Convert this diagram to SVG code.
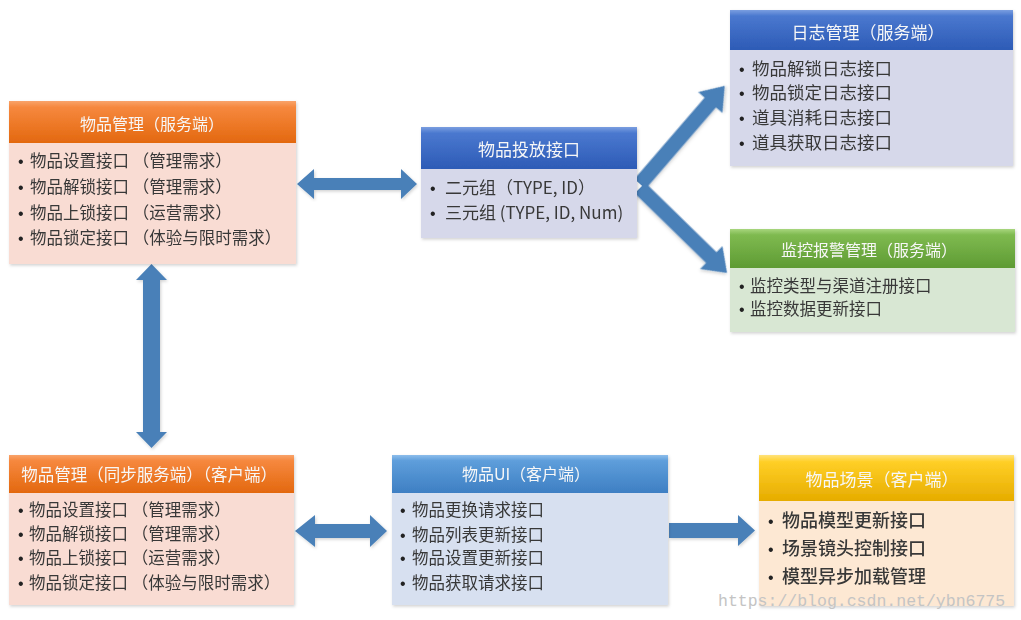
<svg xmlns="http://www.w3.org/2000/svg" width="1021" height="620" viewBox="0 0 1021 620">
<defs>
<linearGradient id="gOrange" x1="0" y1="0" x2="0" y2="1"><stop offset="0" stop-color="#F9A36A"/><stop offset="0.15" stop-color="#F6883E"/><stop offset="1" stop-color="#E3680F"/></linearGradient>
<linearGradient id="gBlue" x1="0" y1="0" x2="0" y2="1"><stop offset="0" stop-color="#7A9EE0"/><stop offset="0.15" stop-color="#4A78CF"/><stop offset="1" stop-color="#2D5BB6"/></linearGradient>
<linearGradient id="gLBlue" x1="0" y1="0" x2="0" y2="1"><stop offset="0" stop-color="#8DBDEB"/><stop offset="0.15" stop-color="#5E9EDB"/><stop offset="1" stop-color="#3E7FC3"/></linearGradient>
<linearGradient id="gGreen" x1="0" y1="0" x2="0" y2="1"><stop offset="0" stop-color="#A8D67E"/><stop offset="0.15" stop-color="#7FBA50"/><stop offset="1" stop-color="#5E9B33"/></linearGradient>
<linearGradient id="gYellow" x1="0" y1="0" x2="0" y2="1"><stop offset="0" stop-color="#FFE27A"/><stop offset="0.15" stop-color="#FFCF26"/><stop offset="1" stop-color="#E6AC00"/></linearGradient>
<filter id="sh" x="-5%" y="-5%" width="110%" height="115%"><feDropShadow dx="1" dy="1.5" stdDeviation="1.5" flood-color="#000" flood-opacity="0.18"/></filter>
</defs>
<style>
.hd{font-family:"Noto Sans CJK SC","Noto Sans",sans-serif;font-size:16px;fill:#F7F7F7;text-anchor:middle;dominant-baseline:central}
.bd{font-family:"Noto Sans CJK SC","Noto Sans",sans-serif;font-size:16.5px;fill:#383838}
.big{font-size:17px}
.b17{font-size:17.5px}
.xl{font-size:18px;font-weight:500}
.b{font-family:"Liberation Sans",Arial,sans-serif;font-size:16px;fill:#222222}
.arr{fill:#4A80B8;filter:url(#sh)}
.wm{font-family:"Liberation Mono","DejaVu Sans Mono",monospace;font-size:16.5px;fill:#C4C4C4}
</style>
<rect width="1021" height="620" fill="#FFFFFF"/>

<g id="connectors">
<polygon class="arr" points="297,184 314,169 314,178 401,178 401,169 417,184 401,199 401,190 314,190 314,199"/>
<polygon class="arr" points="151.5,264 167,280 160,280 160,432 167,432 151.5,448 136,432 143,432 143,280 136,280"/>
<polygon class="arr" points="295,531 315,515 315,524 370,524 370,515 387,531 370,547 370,538 315,538 315,547"/>
<polygon class="arr" points="669,523 738,523 738,515 755,530.5 738,546 738,538 669,538"/>
<polygon class="arr" transform="translate(640,184) rotate(-49.2)" points="0,-7.5 107.6,-7.5 107.6,-16 129.6,0 107.6,16 107.6,7.5 0,7.5"/>
<polygon class="arr" transform="translate(640,188) rotate(44.3)" points="0,-7.5 99.6,-7.5 99.6,-16 121.6,0 99.6,16 99.6,7.5 0,7.5"/>
</g>

<g id="node-item-server" filter="url(#sh)">
<rect x="9" y="143" width="287" height="121" fill="#F9DCD3"/>
<rect x="9" y="101" width="287" height="42" fill="url(#gOrange)"/>
<text class="hd" x="152" y="123">物品管理（服务端）</text>
<text class="b" x="18" y="167">•</text><text class="bd" x="30" y="167">物品设置接口 （管理需求）</text>
<text class="b" x="18" y="193">•</text><text class="bd" x="30" y="193">物品解锁接口 （管理需求）</text>
<text class="b" x="18" y="219">•</text><text class="bd" x="30" y="219">物品上锁接口 （运营需求）</text>
<text class="b" x="18" y="244">•</text><text class="bd" x="30" y="244">物品锁定接口 （体验与限时需求）</text>
</g>

<g id="node-dispatch" filter="url(#sh)">
<rect x="421" y="169" width="216" height="69" fill="#D6D8EA"/>
<rect x="421" y="127" width="216" height="42" fill="url(#gBlue)"/>
<text class="hd big" x="529" y="148">物品投放接口</text>
<text class="b" x="430" y="194">•</text><text class="bd big" x="445" y="194">二元组（TYPE, ID）</text>
<text class="b" x="430" y="219">•</text><text class="bd big" x="445" y="219">三元组 (TYPE, ID, Num)</text>
</g>

<g id="node-log" filter="url(#sh)">
<rect x="730" y="50" width="283" height="116" fill="#D6D8EA"/>
<rect x="730" y="10" width="283" height="40" fill="url(#gBlue)"/>
<text class="hd big" x="868" y="31">日志管理（服务端）</text>
<text class="b" x="739" y="75">•</text><text class="bd b17" x="752" y="75">物品解锁日志接口</text>
<text class="b" x="739" y="99">•</text><text class="bd b17" x="752" y="99">物品锁定日志接口</text>
<text class="b" x="739" y="124">•</text><text class="bd b17" x="752" y="124">道具消耗日志接口</text>
<text class="b" x="739" y="149">•</text><text class="bd b17" x="752" y="149">道具获取日志接口</text>
</g>

<g id="node-monitor" filter="url(#sh)">
<rect x="730" y="268" width="285" height="64" fill="#D8E7D3"/>
<rect x="730" y="229" width="285" height="39" fill="url(#gGreen)"/>
<text class="hd" x="869" y="249">监控报警管理（服务端）</text>
<text class="b" x="739" y="292">•</text><text class="bd" x="750" y="292">监控类型与渠道注册接口</text>
<text class="b" x="739" y="315">•</text><text class="bd" x="750" y="315">监控数据更新接口</text>
</g>

<g id="node-item-client" filter="url(#sh)">
<rect x="9" y="493" width="285" height="112" fill="#F9DCD3"/>
<rect x="9" y="455" width="285" height="38" fill="url(#gOrange)"/>
<text class="hd" x="149" y="474" style="font-size:16.5px">物品管理（同步服务端）（客户端）</text>
<text class="b" x="18" y="516">•</text><text class="bd" x="29" y="516">物品设置接口 （管理需求）</text>
<text class="b" x="18" y="540">•</text><text class="bd" x="29" y="540">物品解锁接口 （管理需求）</text>
<text class="b" x="18" y="564">•</text><text class="bd" x="29" y="564">物品上锁接口 （运营需求）</text>
<text class="b" x="18" y="589">•</text><text class="bd" x="29" y="589">物品锁定接口 （体验与限时需求）</text>
</g>

<g id="node-item-ui" filter="url(#sh)">
<rect x="392" y="493" width="276" height="112" fill="#D7E0F0"/>
<rect x="392" y="455" width="276" height="38" fill="url(#gLBlue)"/>
<text class="hd" x="526" y="473">物品UI（客户端）</text>
<text class="b" x="400" y="516">•</text><text class="bd" x="412" y="516">物品更换请求接口</text>
<text class="b" x="400" y="541">•</text><text class="bd" x="412" y="541">物品列表更新接口</text>
<text class="b" x="400" y="564">•</text><text class="bd" x="412" y="564">物品设置更新接口</text>
<text class="b" x="400" y="589">•</text><text class="bd" x="412" y="589">物品获取请求接口</text>
</g>

<g id="node-item-scene" filter="url(#sh)">
<rect x="759" y="501" width="255" height="105" fill="#FDE8D3"/>
<rect x="759" y="455" width="255" height="46" fill="url(#gYellow)"/>
<text class="hd big" x="882" y="478">物品场景（客户端）</text>
<text class="b" x="768" y="527">•</text><text class="bd xl" x="782" y="527">物品模型更新接口</text>
<text class="b" x="768" y="555">•</text><text class="bd xl" x="782" y="555">场景镜头控制接口</text>
<text class="b" x="768" y="583">•</text><text class="bd xl" x="782" y="583">模型异步加载管理</text>
</g>

<text class="wm" x="718" y="606">https://blog.csdn.net/ybn6775</text>
</svg>
